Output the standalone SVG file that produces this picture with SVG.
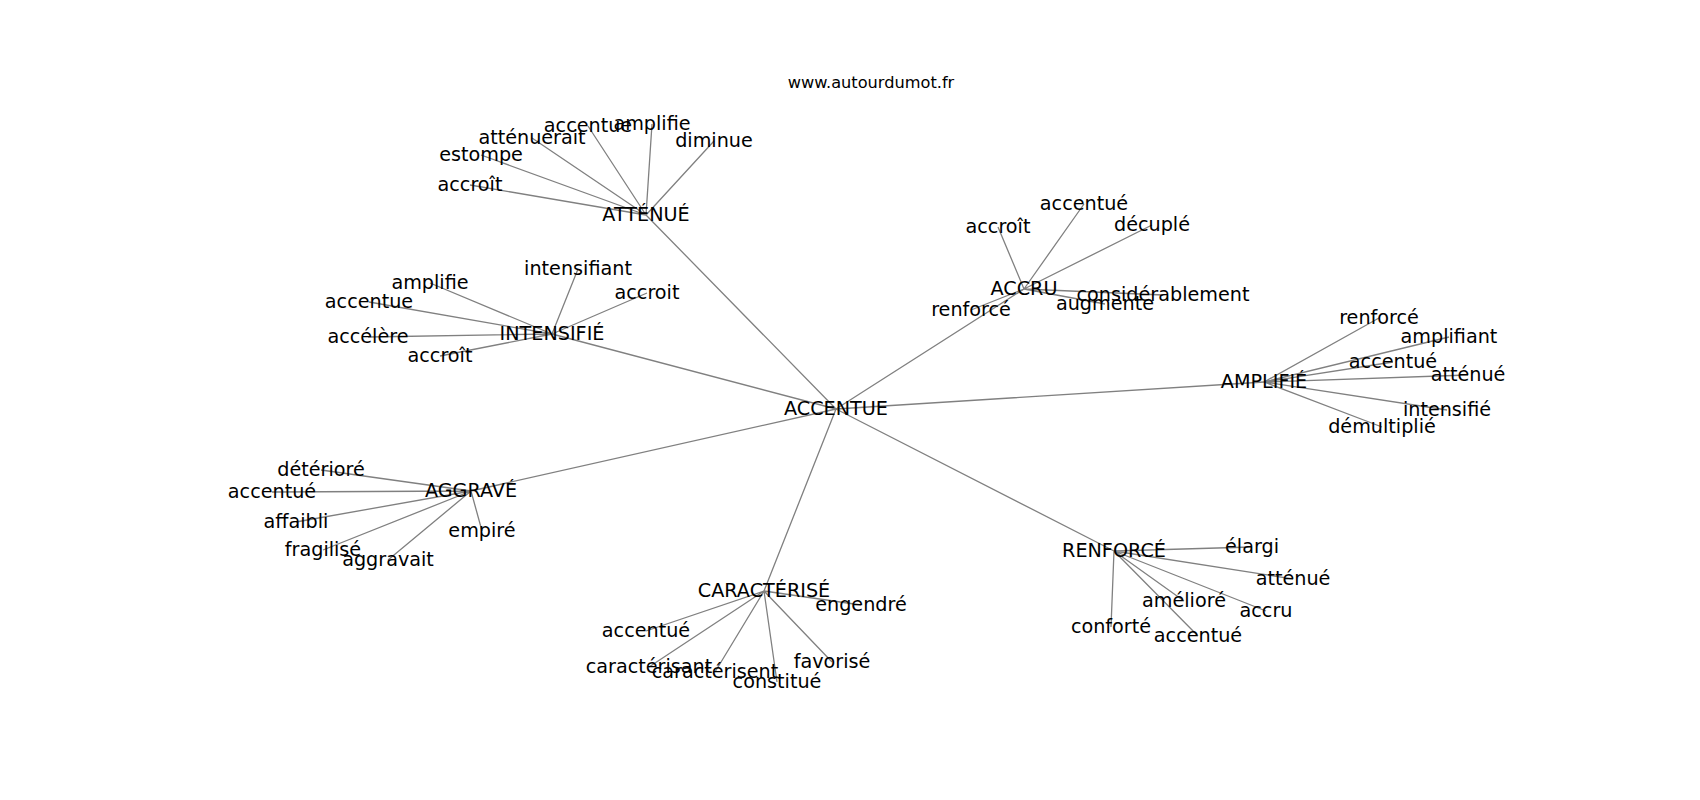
<svg xmlns="http://www.w3.org/2000/svg" width="1700" height="800" viewBox="0 0 1700 800">
<style>
.e{stroke:#808080;stroke-width:1.3;fill:none}
text{font-family:"DejaVu Sans","Liberation Sans",sans-serif;fill:#000;text-anchor:middle}
.n{font-size:19.2px}
.t{font-size:16.2px}
</style>
<rect width="1700" height="800" fill="#fff"/>
<text class="t" x="871" y="88">www.autourdumot.fr</text>
<g id="edges">
<path class="e" d="M836,409L646,215M836,409L1024,289M836,409L552,334M836,409L1264,382M836,409L471,491M836,409L764,591M836,409L1114,551"/>
<path class="e" d="M646,215L470,185M646,215L481,155M646,215L532,138M646,215L588,126M646,215L652,124M646,215L714,141"/>
<path class="e" d="M1024,289L998,227M1024,289L1084,204M1024,289L1152,225M1024,289L1163,295M1024,289L1105,304M1024,289L971,310"/>
<path class="e" d="M552,334L578,269M552,334L647,293M552,334L430,283M552,334L369,302M552,334L368,337M552,334L440,356"/>
<path class="e" d="M1264,382L1379,318M1264,382L1449,337M1264,382L1393,362M1264,382L1468,375M1264,382L1447,410M1264,382L1382,427"/>
<path class="e" d="M471,491L321,470M471,491L272,492M471,491L296,522M471,491L323,550M471,491L388,560M471,491L482,531"/>
<path class="e" d="M764,591L861,605M764,591L646,631M764,591L649,667M764,591L715,672M764,591L777,682M764,591L832,662"/>
<path class="e" d="M1114,551L1252,547M1114,551L1293,579M1114,551L1184,601M1114,551L1266,611M1114,551L1111,627M1114,551L1198,636"/>
</g>
<g id="n-accentue"><text class="n" x="836" y="415">ACCENTUE</text></g>
<g id="n-attenue"><text class="n" x="646" y="221">ATTÉNUÉ</text>
<text class="n" x="470" y="191">accroît</text>
<text class="n" x="481" y="161">estompe</text>
<text class="n" x="532" y="144">atténuerait</text>
<text class="n" x="588" y="132">accentue</text>
<text class="n" x="652" y="130">amplifie</text>
<text class="n" x="714" y="147">diminue</text></g>
<g id="n-accru"><text class="n" x="1024" y="295">ACCRU</text>
<text class="n" x="998" y="233">accroît</text>
<text class="n" x="1084" y="210">accentué</text>
<text class="n" x="1152" y="231">décuplé</text>
<text class="n" x="1163" y="301">considérablement</text>
<text class="n" x="1105" y="310">augmente</text>
<text class="n" x="971" y="316">renforcé</text></g>
<g id="n-intensifie"><text class="n" x="552" y="340">INTENSIFIÉ</text>
<text class="n" x="578" y="275">intensifiant</text>
<text class="n" x="647" y="299">accroit</text>
<text class="n" x="430" y="289">amplifie</text>
<text class="n" x="369" y="308">accentue</text>
<text class="n" x="368" y="343">accélère</text>
<text class="n" x="440" y="362">accroît</text></g>
<g id="n-amplifie"><text class="n" x="1264" y="388">AMPLIFIÉ</text>
<text class="n" x="1379" y="324">renforcé</text>
<text class="n" x="1449" y="343">amplifiant</text>
<text class="n" x="1393" y="368">accentué</text>
<text class="n" x="1468" y="381">atténué</text>
<text class="n" x="1447" y="416">intensifié</text>
<text class="n" x="1382" y="433">démultiplié</text></g>
<g id="n-aggrave"><text class="n" x="471" y="497">AGGRAVÉ</text>
<text class="n" x="321" y="476">détérioré</text>
<text class="n" x="272" y="498">accentué</text>
<text class="n" x="296" y="528">affaibli</text>
<text class="n" x="323" y="556">fragilisé</text>
<text class="n" x="388" y="566">aggravait</text>
<text class="n" x="482" y="537">empiré</text></g>
<g id="n-caracterise"><text class="n" x="764" y="597">CARACTÉRISÉ</text>
<text class="n" x="861" y="611">engendré</text>
<text class="n" x="646" y="637">accentué</text>
<text class="n" x="649" y="673">caractérisant</text>
<text class="n" x="715" y="678">caractérisent</text>
<text class="n" x="777" y="688">constitué</text>
<text class="n" x="832" y="668">favorisé</text></g>
<g id="n-renforce"><text class="n" x="1114" y="557">RENFORCÉ</text>
<text class="n" x="1252" y="553">élargi</text>
<text class="n" x="1293" y="585">atténué</text>
<text class="n" x="1184" y="607">amélioré</text>
<text class="n" x="1266" y="617">accru</text>
<text class="n" x="1111" y="633">conforté</text>
<text class="n" x="1198" y="642">accentué</text></g>
</svg>
